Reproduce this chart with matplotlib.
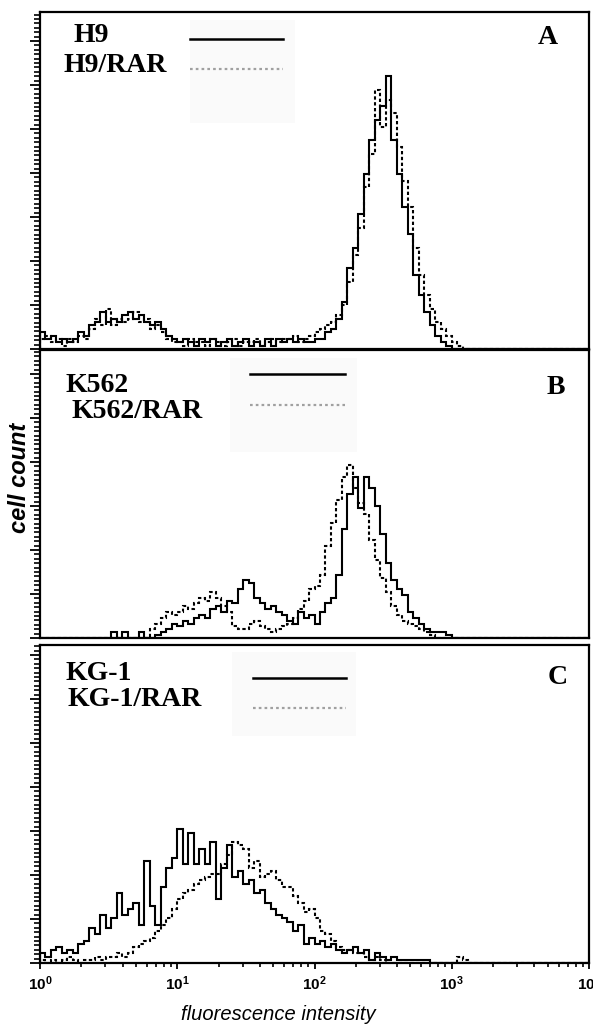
import numpy as np
import matplotlib
matplotlib.use('Agg')
import matplotlib.pyplot as plt
import matplotlib.ticker as tck
from matplotlib.lines import Line2D
from matplotlib.patches import Rectangle

W, H = 593, 1028  # taille de l'image en pixels

# 100 canaux logarithmiques sur 4 decades (10^0 .. 10^4)
canaux = np.logspace(0, 4, 101)

# comptages (en % de la hauteur de chaque panneau)
h9 = [5, 3, 4, 2, 3, 2, 3, 5, 4, 7,
      8, 11, 8, 9, 8, 10, 11, 9, 10, 8,
      7, 8, 6, 4, 3, 2, 3, 2, 1, 3,
      2, 3, 1, 2, 3, 1, 2, 3, 1, 2,
      1, 3, 1, 3, 2, 3, 2, 3, 2, 2,
      3, 3, 5, 6, 9, 14, 24, 30, 40, 52,
      62, 68, 72, 81, 62, 52, 42, 34, 22, 16,
      11, 7, 4, 2, 1, 0, 0, 0, 0, 0,
      0, 0, 0, 0, 0, 0, 0, 0, 0, 0,
      0, 0, 0, 0, 0, 0, 0, 0, 0, 0]
h9_rar = [3, 4, 2, 3, 1, 3, 2, 4, 3, 6,
          9, 7, 12, 7, 9, 8, 9, 11, 8, 9,
          6, 7, 5, 3, 2, 2, 1, 3, 2, 2,
          1, 3, 2, 1, 2, 3, 1, 2, 2, 3,
          1, 2, 3, 2, 3, 3, 4, 2, 3, 4,
          5, 6, 7, 8, 10, 13, 20, 28, 36, 48,
          58, 77, 66, 74, 70, 60, 50, 42, 30, 22,
          16, 12, 8, 6, 4, 2, 1, 0, 0, 0,
          0, 0, 0, 0, 0, 0, 0, 0, 0, 0,
          0, 0, 0, 0, 0, 0, 0, 0, 0, 0]
k562 = [0, 0, 0, 0, 0, 0, 0, 0, 0, 0,
        0, 0, 0, 2, 0, 2, 0, 0, 2, 0,
        0, 1, 2, 3, 5, 4, 6, 5, 7, 8,
        7, 10, 11, 9, 13, 12, 17, 20, 19, 14,
        12, 10, 11, 9, 8, 6, 5, 9, 7, 8,
        5, 9, 12, 14, 22, 38, 50, 56, 45, 56,
        52, 46, 36, 26, 20, 17, 15, 9, 7, 5,
        3, 2, 2, 2, 1, 0, 0, 0, 0, 0,
        0, 0, 0, 0, 0, 0, 0, 0, 0, 0,
        0, 0, 0, 0, 0, 0, 0, 0, 0, 0]
k562_rar = [0, 0, 0, 0, 0, 0, 0, 0, 0, 0,
            0, 0, 0, 0, 0, 0, 0, 0, 0, 0,
            3, 5, 7, 9, 8, 9, 11, 10, 12, 14,
            13, 16, 14, 11, 9, 4, 3, 3, 5, 6,
            4, 3, 2, 3, 4, 5, 7, 10, 13, 17,
            18, 22, 32, 40, 48, 56, 60, 52, 47, 43,
            34, 27, 21, 16, 11, 8, 6, 5, 4, 3,
            2, 1, 0, 0, 0, 0, 0, 0, 0, 0,
            0, 0, 0, 0, 0, 0, 0, 0, 0, 0,
            0, 0, 0, 0, 0, 0, 0, 0, 0, 0]
kg1 = [3, 2, 4, 5, 3, 4, 3, 6, 7, 11,
       9, 15, 11, 14, 22, 15, 17, 19, 12, 32,
       18, 12, 24, 30, 33, 42, 31, 41, 31, 36,
       31, 38, 20, 30, 37, 27, 29, 25, 26, 22,
       23, 19, 17, 15, 14, 13, 10, 12, 6, 8,
       6, 7, 5, 6, 4, 3, 4, 5, 3, 4,
       1, 3, 2, 1, 2, 1, 1, 1, 1, 1,
       1, 0, 0, 0, 0, 0, 0, 0, 0, 0,
       0, 0, 0, 0, 0, 0, 0, 0, 0, 0,
       0, 0, 0, 0, 0, 0, 0, 0, 0, 0]
kg1_rar = [1, 0, 1, 0, 1, 2, 1, 0, 1, 1,
           2, 1, 2, 2, 3, 2, 3, 5, 6, 7,
           8, 10, 12, 14, 17, 20, 22, 23, 25, 26,
           27, 28, 28, 31, 34, 38, 37, 36, 30, 32,
           27, 28, 29, 26, 24, 24, 21, 19, 16, 17,
           14, 10, 9, 7, 5, 4, 4, 3, 3, 2,
           1, 2, 1, 0, 0, 0, 0, 0, 0, 0,
           0, 0, 0, 0, 0, 0, 2, 1, 0, 0,
           0, 0, 0, 0, 0, 0, 0, 0, 0, 0,
           0, 0, 0, 0, 0, 0, 0, 0, 0, 0]

series = [(h9, h9_rar), (k562, k562_rar), (kg1, kg1_rar)]
noms = [('H9', 'H9/RAR'), ('K562', 'K562/RAR'), ('KG-1', 'KG-1/RAR')]
lettres = ['A', 'B', 'C']
decades = [1, 10, 100, 1000, 10000]
decades_lbl = [r'$\mathbf{10^{0}}$', r'$\mathbf{10^{1}}$', r'$\mathbf{10^{2}}$',
               r'$\mathbf{10^{3}}$', r'$\mathbf{10^{4}}$']

plt.rcParams['mathtext.fontset'] = 'custom'
plt.rcParams['mathtext.bf'] = 'Liberation Sans:bold'
plt.rcParams['mathtext.rm'] = 'Liberation Sans'

# geometrie (pixels) : haut/bas de chaque panneau
panneaux = [(12, 349), (350, 638), (645, 963)]
gauche, droite = 40, 589
# positions (pixels) des textes de legende, traits et lettres
txt1 = [(73, 36), (66, 385), (66, 673)]
txt2 = [(63, 66), (72, 411), (68, 700)]
trait_x = [(190, 283), (250, 345), (253, 346)]
trait_y = [(39, 69), (374, 405), (678, 708)]
boite = [(190, 20, 295, 123), (230, 358, 357, 452), (232, 652, 356, 736)]
lettre_xy = [(548, 38), (556, 388), (558, 678)]


def fxy(x, y):
    return x / W, 1 - y / H


fig = plt.figure(figsize=(W / 100, H / 100), dpi=100)

for k in range(3):
    haut, bas = panneaux[k]
    ax = fig.add_axes([gauche / W, 1 - bas / H, (droite - gauche) / W, (bas - haut) / H])
    ax.set_xscale('log')
    ax.set_xlim(1, 10000)
    ax.set_ylim(0, 100)

    # boite tres claire derriere les traits de legende
    x0, y0, x1, y1 = boite[k]
    fig.add_artist(Rectangle(fxy(x0, y1), (x1 - x0) / W, (y1 - y0) / H,
                             transform=fig.transFigure, color='#fafafa', zorder=0.5, lw=0))

    sol, pt = series[k]
    ax.stairs(pt, canaux, color='black', lw=1.5, linestyle=(0, (1.6, 1.2)))
    ax.stairs(sol, canaux, color='black', lw=1.5)

    for s in ax.spines.values():
        s.set_linewidth(1.6)

    # graduations verticales
    pas = 100 * 4.4 / (bas - haut)
    ax.yaxis.set_major_locator(tck.MultipleLocator(10 * pas))
    ax.yaxis.set_minor_locator(tck.MultipleLocator(pas))
    ax.yaxis.set_major_formatter(tck.NullFormatter())
    ax.tick_params(axis='y', which='major', direction='out', length=7, width=1.3)
    ax.tick_params(axis='y', which='minor', direction='out', length=4.5, width=1.2)

    if k < 2:
        ax.tick_params(axis='x', which='both', length=0, labelbottom=False)
    else:
        ax.set_xticks(decades)
        ax.set_xticklabels(decades_lbl, fontsize=11)
        ax.xaxis.set_minor_locator(tck.LogLocator(base=10, subs=np.arange(2, 10)))
        ax.xaxis.set_minor_formatter(tck.NullFormatter())
        ax.tick_params(axis='x', which='major', direction='out', length=4, width=1.3, pad=4)
        ax.tick_params(axis='x', which='minor', direction='out', length=3, width=1.2)

    # legende faite a la main (texte a gauche, trait a droite)
    fig.text(*fxy(*txt1[k]), noms[k][0], family='Liberation Serif', weight='bold',
             fontsize=20, ha='left', va='center')
    fig.text(*fxy(*txt2[k]), noms[k][1], family='Liberation Serif', weight='bold',
             fontsize=20, ha='left', va='center')
    xa, xb = trait_x[k]
    ya, yb = trait_y[k]
    fig.add_artist(Line2D([xa / W, xb / W], [1 - ya / H, 1 - ya / H],
                          transform=fig.transFigure, color='black', lw=1.8))
    fig.add_artist(Line2D([xa / W, xb / W], [1 - yb / H, 1 - yb / H],
                          transform=fig.transFigure, color='#a0a0a0', lw=1.6,
                          linestyle=(0, (1.2, 1.4))))
    fig.text(*fxy(*lettre_xy[k]), lettres[k], family='Liberation Serif', weight='bold',
             fontsize=20, ha='center', va='center')

fig.text(*fxy(20, 478), 'cell count', rotation=90, family='Liberation Sans',
         style='italic', weight='bold', fontsize=17, ha='center', va='center')
fig.text(*fxy(278, 1015), 'fluorescence intensity', family='Liberation Sans',
         style='italic', fontsize=14.5, ha='center', va='center')

fig.savefig('out.png', dpi=100, facecolor='white')
